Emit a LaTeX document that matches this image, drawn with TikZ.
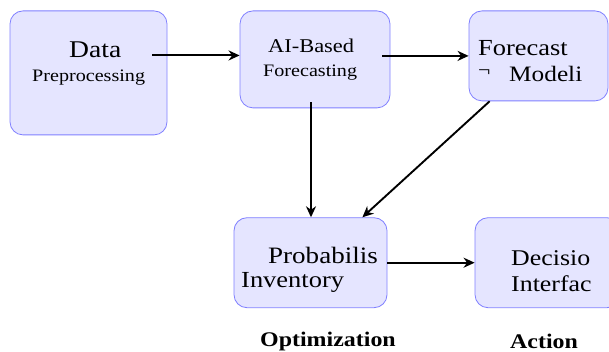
\documentclass[tikz,border=0pt]{standalone}
\usepackage{fontspec}
\setmainfont{Liberation Serif}[FakeStretch=1.15]
\usetikzlibrary{positioning,arrows.meta}
\tikzset{x=1pt, y=1pt,
  stage/.style={draw=blue!50, fill=blue!10, line width=0.8pt, rounded corners=13pt, inner sep=0pt},
  txt/.style={anchor=base west, inner sep=0pt},
  flow/.style={draw, line width=1.9pt, -{Stealth[length=11pt, width=10pt, inset=3.5pt]}}}
\newcommand{\fs}[1]{\fontsize{#1}{#1}\selectfont}

\begin{document}
\begin{tikzpicture}
	\useasboundingbox (0,0) rectangle (609,-352);
	\clip (0,0) rectangle (609,-352);

	% stages
	\node[stage, minimum width=157pt, minimum height=124pt] (data) at (88.5,-72.9) {};
	\node[stage, minimum width=150pt, minimum height=97pt]  (ai)   at (315,-59.4) {};
	\node[stage, minimum width=139pt, minimum height=90pt]  (fc)   at (538.5,-55.9) {};
	\node[stage, minimum width=153pt, minimum height=90pt]  (prob) at (310.5,-262.7) {};
	\node[stage, minimum width=145pt, minimum height=90pt]  (dec)  at (547.5,-262.7) {};

	% texts
	\node[txt, font=\fs{24}]   (dataA) at (69,-57.3)  {Data};
	\node[txt, font=\fs{17.5}] (dataB) at (32,-81.7)  {Preprocessing};
	\node[txt, font=\fs{19.5}] (aiA)   at (268,-52.3) {AI-Based};
	\node[txt, font=\fs{17.5}] (aiB)   at (263,-76.7) {Forecasting};
	\node[txt, font=\fs{23}]   (fcA)   at (478,-56)   {Forecast};
	\node[txt, font=\fs{19}]   (fcN)   at (478,-77)   {¬};
	\node[txt, font=\fs{22}]   (fcB)   at (509,-81.7) {Modeli};
	\node[txt, font=\fs{23.5}] (probA) at (268,-263.3) {Probabilis};
	\node[txt, font=\fs{23}]   (probB) at (241,-287.7) {Inventory};
	\node[txt, font=\fs{22.5}] (decA)  at (511,-265.7) {Decisio};
	\node[txt, font=\fs{22.5}] (decB)  at (511,-291)   {Interfac};
	\node[txt, font=\fs{20.8}\bfseries] (opt) at (260,-346.5) {Optimization};
	\node[txt, font=\fs{20.8}\bfseries] (act) at (510,-348.5) {Action};

	% connectors
	\path[flow]
		([xshift=-15pt]data.east |- ai.177) -- (ai.177);
	\path[flow]
		([xshift=-8pt]ai.east |- fc.west) -- (fc.west);
	\path[flow]
		([xshift=0.5pt,yshift=6pt]prob.north |- ai.south) -- ([xshift=0.5pt]prob.north);
	\path[flow]
		([xshift=21pt]fc.south west) -- ([xshift=-25pt]prob.north east);
	\path[flow]
		(prob.east) -- (dec.west);
\end{tikzpicture}
\end{document}
